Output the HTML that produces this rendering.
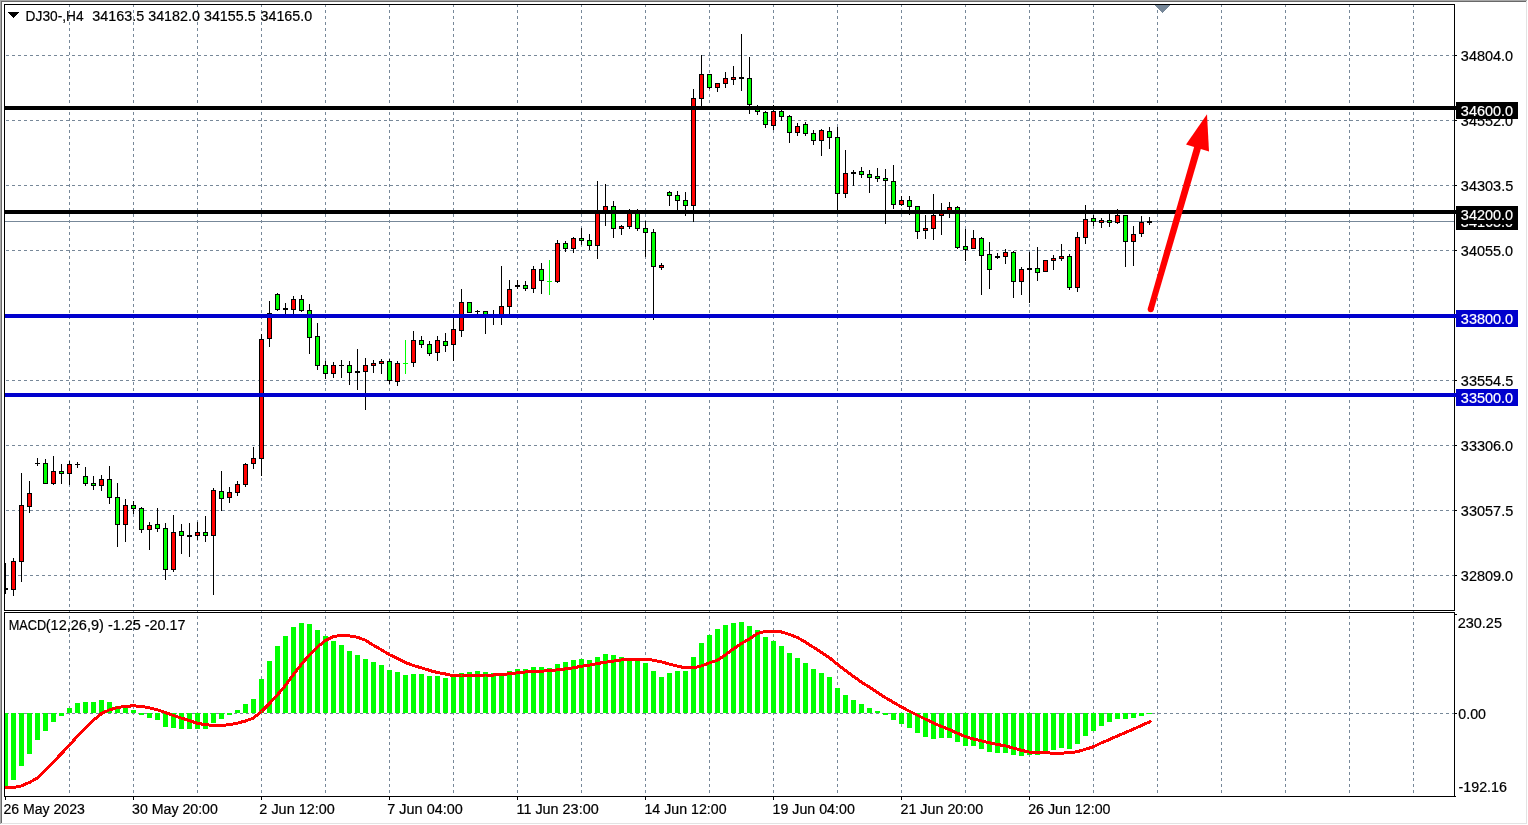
<!DOCTYPE html>
<html><head><meta charset="utf-8"><title>DJ30-,H4</title>
<style>html,body{margin:0;padding:0;background:#fff;overflow:hidden}svg{display:block}text{font-family:"Liberation Sans",sans-serif;font-size:14px;fill:#000;white-space:pre}text{stroke:#000;stroke-width:.2px}.w{fill:#fff;stroke:#fff}.c{shape-rendering:crispEdges}</style></head><body>
<svg width="1528" height="825" viewBox="0 0 1528 825">
<rect width="1528" height="825" fill="#fff"/>
<g class="c">
<rect x="0" y="0" width="1527" height="1" fill="#a8a8a8"/><rect x="0" y="0" width="1" height="824" fill="#a8a8a8"/>
<rect x="1" y="1" width="1525" height="1" fill="#696969"/><rect x="1" y="1" width="1" height="822" fill="#696969"/>
<rect x="1" y="823" width="1526" height="1" fill="#e3e3e3"/><rect x="1526" y="1" width="1" height="823" fill="#e3e3e3"/>
</g>
<g class="c" stroke="#778899" stroke-width="1" stroke-dasharray="3 3" fill="none">
<path d="M69.5 4V610"/>
<path d="M69.5 610V796"/>
<path d="M133.5 4V610"/>
<path d="M133.5 610V796"/>
<path d="M197.5 4V610"/>
<path d="M197.5 610V796"/>
<path d="M261.5 4V610"/>
<path d="M261.5 610V796"/>
<path d="M325.5 4V610"/>
<path d="M325.5 610V796"/>
<path d="M389.5 4V610"/>
<path d="M389.5 610V796"/>
<path d="M453.5 4V610"/>
<path d="M453.5 610V796"/>
<path d="M517.5 4V610"/>
<path d="M517.5 610V796"/>
<path d="M581.5 4V610"/>
<path d="M581.5 610V796"/>
<path d="M645.5 4V610"/>
<path d="M645.5 610V796"/>
<path d="M709.5 4V610"/>
<path d="M709.5 610V796"/>
<path d="M773.5 4V610"/>
<path d="M773.5 610V796"/>
<path d="M837.5 4V610"/>
<path d="M837.5 610V796"/>
<path d="M901.5 4V610"/>
<path d="M901.5 610V796"/>
<path d="M965.5 4V610"/>
<path d="M965.5 610V796"/>
<path d="M1029.5 4V610"/>
<path d="M1029.5 610V796"/>
<path d="M1093.5 4V610"/>
<path d="M1093.5 610V796"/>
<path d="M1157.5 4V610"/>
<path d="M1157.5 610V796"/>
<path d="M1221.5 4V610"/>
<path d="M1221.5 610V796"/>
<path d="M1285.5 4V610"/>
<path d="M1285.5 610V796"/>
<path d="M1349.5 4V610"/>
<path d="M1349.5 610V796"/>
<path d="M1413.5 4V610"/>
<path d="M1413.5 610V796"/>
<path d="M6 55.5H1454"/>
<path d="M6 120.5H1454"/>
<path d="M6 185.5H1454"/>
<path d="M6 250.5H1454"/>
<path d="M6 315.5H1454"/>
<path d="M6 380.5H1454"/>
<path d="M6 445.5H1454"/>
<path d="M6 510.5H1454"/>
<path d="M6 575.5H1454"/>
<path d="M6 713.5H1454"/>
</g>
<rect class="c" x="5" y="221" width="1449" height="1" fill="#778899"/>
<g class="c">
<rect x="5" y="713" width="3" height="74" fill="#00ff00"/>
<rect x="11" y="713" width="5" height="67" fill="#00ff00"/>
<rect x="19" y="713" width="5" height="53" fill="#00ff00"/>
<rect x="27" y="713" width="5" height="41" fill="#00ff00"/>
<rect x="35" y="713" width="5" height="27" fill="#00ff00"/>
<rect x="43" y="713" width="5" height="18" fill="#00ff00"/>
<rect x="51" y="713" width="5" height="9" fill="#00ff00"/>
<rect x="59" y="713" width="5" height="3" fill="#00ff00"/>
<rect x="67" y="708" width="5" height="5" fill="#00ff00"/>
<rect x="75" y="703" width="5" height="10" fill="#00ff00"/>
<rect x="83" y="702" width="5" height="11" fill="#00ff00"/>
<rect x="91" y="702" width="5" height="11" fill="#00ff00"/>
<rect x="99" y="700" width="5" height="13" fill="#00ff00"/>
<rect x="107" y="702" width="5" height="11" fill="#00ff00"/>
<rect x="115" y="706" width="5" height="7" fill="#00ff00"/>
<rect x="123" y="708" width="5" height="5" fill="#00ff00"/>
<rect x="131" y="710" width="5" height="3" fill="#00ff00"/>
<rect x="139" y="713" width="5" height="2" fill="#00ff00"/>
<rect x="147" y="713" width="5" height="5" fill="#00ff00"/>
<rect x="155" y="713" width="5" height="7" fill="#00ff00"/>
<rect x="163" y="713" width="5" height="14" fill="#00ff00"/>
<rect x="171" y="713" width="5" height="15" fill="#00ff00"/>
<rect x="179" y="713" width="5" height="16" fill="#00ff00"/>
<rect x="187" y="713" width="5" height="16" fill="#00ff00"/>
<rect x="195" y="713" width="5" height="16" fill="#00ff00"/>
<rect x="203" y="713" width="5" height="16" fill="#00ff00"/>
<rect x="211" y="713" width="5" height="10" fill="#00ff00"/>
<rect x="219" y="713" width="5" height="6" fill="#00ff00"/>
<rect x="227" y="713" width="5" height="2" fill="#00ff00"/>
<rect x="235" y="710" width="5" height="3" fill="#00ff00"/>
<rect x="243" y="704" width="5" height="9" fill="#00ff00"/>
<rect x="251" y="699" width="5" height="14" fill="#00ff00"/>
<rect x="259" y="679" width="5" height="34" fill="#00ff00"/>
<rect x="267" y="661" width="5" height="52" fill="#00ff00"/>
<rect x="275" y="646" width="5" height="67" fill="#00ff00"/>
<rect x="283" y="636" width="5" height="77" fill="#00ff00"/>
<rect x="291" y="627" width="5" height="86" fill="#00ff00"/>
<rect x="299" y="623" width="5" height="90" fill="#00ff00"/>
<rect x="307" y="624" width="5" height="89" fill="#00ff00"/>
<rect x="315" y="630" width="5" height="83" fill="#00ff00"/>
<rect x="323" y="636" width="5" height="77" fill="#00ff00"/>
<rect x="331" y="641" width="5" height="72" fill="#00ff00"/>
<rect x="339" y="645" width="5" height="68" fill="#00ff00"/>
<rect x="347" y="651" width="5" height="62" fill="#00ff00"/>
<rect x="355" y="655" width="5" height="58" fill="#00ff00"/>
<rect x="363" y="659" width="5" height="54" fill="#00ff00"/>
<rect x="371" y="662" width="5" height="51" fill="#00ff00"/>
<rect x="379" y="665" width="5" height="48" fill="#00ff00"/>
<rect x="387" y="670" width="5" height="43" fill="#00ff00"/>
<rect x="395" y="672" width="5" height="41" fill="#00ff00"/>
<rect x="403" y="675" width="5" height="38" fill="#00ff00"/>
<rect x="411" y="674" width="5" height="39" fill="#00ff00"/>
<rect x="419" y="674" width="5" height="39" fill="#00ff00"/>
<rect x="427" y="676" width="5" height="37" fill="#00ff00"/>
<rect x="435" y="676" width="5" height="37" fill="#00ff00"/>
<rect x="443" y="678" width="5" height="35" fill="#00ff00"/>
<rect x="451" y="675" width="5" height="38" fill="#00ff00"/>
<rect x="459" y="673" width="5" height="40" fill="#00ff00"/>
<rect x="467" y="672" width="5" height="41" fill="#00ff00"/>
<rect x="475" y="671" width="5" height="42" fill="#00ff00"/>
<rect x="483" y="672" width="5" height="41" fill="#00ff00"/>
<rect x="491" y="673" width="5" height="40" fill="#00ff00"/>
<rect x="499" y="673" width="5" height="40" fill="#00ff00"/>
<rect x="507" y="671" width="5" height="42" fill="#00ff00"/>
<rect x="515" y="669" width="5" height="44" fill="#00ff00"/>
<rect x="523" y="669" width="5" height="44" fill="#00ff00"/>
<rect x="531" y="667" width="5" height="46" fill="#00ff00"/>
<rect x="539" y="667" width="5" height="46" fill="#00ff00"/>
<rect x="547" y="668" width="5" height="45" fill="#00ff00"/>
<rect x="555" y="664" width="5" height="49" fill="#00ff00"/>
<rect x="563" y="662" width="5" height="51" fill="#00ff00"/>
<rect x="571" y="660" width="5" height="53" fill="#00ff00"/>
<rect x="579" y="659" width="5" height="54" fill="#00ff00"/>
<rect x="587" y="660" width="5" height="53" fill="#00ff00"/>
<rect x="595" y="657" width="5" height="56" fill="#00ff00"/>
<rect x="603" y="654" width="5" height="59" fill="#00ff00"/>
<rect x="611" y="655" width="5" height="58" fill="#00ff00"/>
<rect x="619" y="657" width="5" height="56" fill="#00ff00"/>
<rect x="627" y="658" width="5" height="55" fill="#00ff00"/>
<rect x="635" y="659" width="5" height="54" fill="#00ff00"/>
<rect x="643" y="663" width="5" height="50" fill="#00ff00"/>
<rect x="651" y="671" width="5" height="42" fill="#00ff00"/>
<rect x="659" y="677" width="5" height="36" fill="#00ff00"/>
<rect x="667" y="673" width="5" height="40" fill="#00ff00"/>
<rect x="675" y="671" width="5" height="42" fill="#00ff00"/>
<rect x="683" y="671" width="5" height="42" fill="#00ff00"/>
<rect x="691" y="657" width="5" height="56" fill="#00ff00"/>
<rect x="699" y="643" width="5" height="70" fill="#00ff00"/>
<rect x="707" y="635" width="5" height="78" fill="#00ff00"/>
<rect x="715" y="629" width="5" height="84" fill="#00ff00"/>
<rect x="723" y="625" width="5" height="88" fill="#00ff00"/>
<rect x="731" y="623" width="5" height="90" fill="#00ff00"/>
<rect x="739" y="622" width="5" height="91" fill="#00ff00"/>
<rect x="747" y="626" width="5" height="87" fill="#00ff00"/>
<rect x="755" y="630" width="5" height="83" fill="#00ff00"/>
<rect x="763" y="637" width="5" height="76" fill="#00ff00"/>
<rect x="771" y="641" width="5" height="72" fill="#00ff00"/>
<rect x="779" y="646" width="5" height="67" fill="#00ff00"/>
<rect x="787" y="653" width="5" height="60" fill="#00ff00"/>
<rect x="795" y="658" width="5" height="55" fill="#00ff00"/>
<rect x="803" y="663" width="5" height="50" fill="#00ff00"/>
<rect x="811" y="669" width="5" height="44" fill="#00ff00"/>
<rect x="819" y="673" width="5" height="40" fill="#00ff00"/>
<rect x="827" y="677" width="5" height="36" fill="#00ff00"/>
<rect x="835" y="688" width="5" height="25" fill="#00ff00"/>
<rect x="843" y="695" width="5" height="18" fill="#00ff00"/>
<rect x="851" y="700" width="5" height="13" fill="#00ff00"/>
<rect x="859" y="704" width="5" height="9" fill="#00ff00"/>
<rect x="867" y="708" width="5" height="5" fill="#00ff00"/>
<rect x="875" y="711" width="5" height="2" fill="#00ff00"/>
<rect x="883" y="713" width="5" height="2" fill="#00ff00"/>
<rect x="891" y="713" width="5" height="7" fill="#00ff00"/>
<rect x="899" y="713" width="5" height="11" fill="#00ff00"/>
<rect x="907" y="713" width="5" height="15" fill="#00ff00"/>
<rect x="915" y="713" width="5" height="20" fill="#00ff00"/>
<rect x="923" y="713" width="5" height="24" fill="#00ff00"/>
<rect x="931" y="713" width="5" height="26" fill="#00ff00"/>
<rect x="939" y="713" width="5" height="25" fill="#00ff00"/>
<rect x="947" y="713" width="5" height="25" fill="#00ff00"/>
<rect x="955" y="713" width="5" height="29" fill="#00ff00"/>
<rect x="963" y="713" width="5" height="33" fill="#00ff00"/>
<rect x="971" y="713" width="5" height="33" fill="#00ff00"/>
<rect x="979" y="713" width="5" height="36" fill="#00ff00"/>
<rect x="987" y="713" width="5" height="39" fill="#00ff00"/>
<rect x="995" y="713" width="5" height="40" fill="#00ff00"/>
<rect x="1003" y="713" width="5" height="40" fill="#00ff00"/>
<rect x="1011" y="713" width="5" height="42" fill="#00ff00"/>
<rect x="1019" y="713" width="5" height="43" fill="#00ff00"/>
<rect x="1027" y="713" width="5" height="42" fill="#00ff00"/>
<rect x="1035" y="713" width="5" height="42" fill="#00ff00"/>
<rect x="1043" y="713" width="5" height="39" fill="#00ff00"/>
<rect x="1051" y="713" width="5" height="37" fill="#00ff00"/>
<rect x="1059" y="713" width="5" height="35" fill="#00ff00"/>
<rect x="1067" y="713" width="5" height="36" fill="#00ff00"/>
<rect x="1075" y="713" width="5" height="31" fill="#00ff00"/>
<rect x="1083" y="713" width="5" height="23" fill="#00ff00"/>
<rect x="1091" y="713" width="5" height="18" fill="#00ff00"/>
<rect x="1099" y="713" width="5" height="13" fill="#00ff00"/>
<rect x="1107" y="713" width="5" height="9" fill="#00ff00"/>
<rect x="1115" y="713" width="5" height="6" fill="#00ff00"/>
<rect x="1123" y="713" width="5" height="6" fill="#00ff00"/>
<rect x="1131" y="713" width="5" height="5" fill="#00ff00"/>
<rect x="1139" y="713" width="5" height="3" fill="#00ff00"/>
<rect x="1147" y="713" width="5" height="1" fill="#00ff00"/>
</g>
<polyline points="5,787.8 5.5,787.8 13.5,787.5 21.5,785.9 29.5,782.4 37.5,777.9 45.5,770.2 53.5,761.8 61.5,753.5 69.5,745.1 77.5,736.1 85.5,727.8 93.5,720.1 101.5,713.6 109.5,709.8 117.5,707.6 125.5,706.2 133.5,705.9 141.5,706.2 149.5,707.9 157.5,709.8 165.5,712.6 173.5,715.6 181.5,718.1 189.5,720.7 197.5,723.4 205.5,724.6 213.5,725.6 221.5,725.6 229.5,724.6 237.5,723.1 245.5,721 253.5,718 261.5,711.5 269.5,703.5 277.5,694.8 285.5,685.3 293.5,674.4 301.5,664.2 309.5,654.8 317.5,646.8 325.5,640.5 333.5,636.6 341.5,635.1 349.5,635.9 357.5,637.3 365.5,640.2 373.5,645.3 381.5,649.9 389.5,654.7 397.5,658.6 405.5,662.6 413.5,665.6 421.5,667.8 429.5,670.4 437.5,672.6 445.5,674 453.5,675.7 461.5,675.9 469.5,675.9 477.5,675.7 485.5,675 493.5,675 501.5,674.7 509.5,673.7 517.5,672.8 525.5,672 533.5,671.7 541.5,671.1 549.5,670.8 557.5,669.8 565.5,668.9 573.5,667.8 581.5,666.2 589.5,665.1 597.5,663.5 605.5,662.2 613.5,661.1 621.5,659.9 629.5,659.1 637.5,659.1 645.5,659.1 653.5,660.2 661.5,661.9 669.5,664.2 677.5,666.2 685.5,667.8 693.5,667.8 701.5,665.9 709.5,662.8 717.5,660.2 725.5,654.8 733.5,648.8 741.5,643.5 749.5,638.8 757.5,633.5 765.5,631.3 773.5,631.2 781.5,632 789.5,634.4 797.5,637.5 805.5,642.2 813.5,647.3 821.5,652.4 829.5,657.8 837.5,664.3 845.5,670.5 853.5,676.5 861.5,682.1 869.5,687.2 877.5,692.6 885.5,697.7 893.5,702.4 901.5,707 909.5,711.3 917.5,715.2 925.5,719.2 933.5,723.1 941.5,726.5 949.5,729.6 957.5,733.3 965.5,736.6 973.5,739 981.5,740.9 989.5,742.8 997.5,744.5 1005.5,745.9 1013.5,748.1 1021.5,750.3 1029.5,752.1 1037.5,752.8 1045.5,752.8 1053.5,753.2 1061.5,753.1 1069.5,752.8 1077.5,751.7 1085.5,749.2 1093.5,746.7 1101.5,742.8 1109.5,739.5 1117.5,735.9 1125.5,732.5 1133.5,729.1 1141.5,725.5 1149.5,721.9 1151,720.8" fill="none" stroke="#ff0000" stroke-width="3" stroke-linejoin="round" stroke-linecap="butt" shape-rendering="crispEdges"/>
<g class="c">
<rect x="5" y="563" width="1" height="31" fill="#000"/>
<rect x="5" y="588" width="3" height="2" fill="#000"/>
<rect x="13" y="558" width="1" height="38" fill="#000"/>
<rect x="11" y="561" width="5" height="29" fill="#000"/>
<rect x="12" y="562" width="3" height="27" fill="#ff0000"/>
<rect x="21" y="473" width="1" height="109" fill="#000"/>
<rect x="19" y="505" width="5" height="57" fill="#000"/>
<rect x="20" y="506" width="3" height="55" fill="#ff0000"/>
<rect x="29" y="481" width="1" height="32" fill="#000"/>
<rect x="27" y="493" width="5" height="14" fill="#000"/>
<rect x="28" y="494" width="3" height="12" fill="#ff0000"/>
<rect x="37" y="458" width="1" height="8" fill="#000"/>
<rect x="35" y="463" width="5" height="1" fill="#000"/>
<rect x="45" y="459" width="1" height="25" fill="#000"/>
<rect x="43" y="463" width="5" height="21" fill="#000"/>
<rect x="44" y="464" width="3" height="19" fill="#00ff00"/>
<rect x="53" y="456" width="1" height="29" fill="#000"/>
<rect x="51" y="471" width="5" height="13" fill="#000"/>
<rect x="52" y="472" width="3" height="11" fill="#ff0000"/>
<rect x="61" y="464" width="1" height="20" fill="#000"/>
<rect x="59" y="471" width="5" height="3" fill="#000"/>
<rect x="60" y="472" width="3" height="1" fill="#00ff00"/>
<rect x="69" y="461" width="1" height="24" fill="#000"/>
<rect x="67" y="464" width="5" height="10" fill="#000"/>
<rect x="68" y="465" width="3" height="8" fill="#ff0000"/>
<rect x="77" y="462" width="1" height="6" fill="#000"/>
<rect x="75" y="464" width="5" height="1" fill="#000"/>
<rect x="85" y="467" width="1" height="19" fill="#000"/>
<rect x="83" y="476" width="5" height="8" fill="#000"/>
<rect x="84" y="477" width="3" height="6" fill="#00ff00"/>
<rect x="93" y="476" width="1" height="14" fill="#000"/>
<rect x="91" y="483" width="5" height="3" fill="#000"/>
<rect x="92" y="484" width="3" height="1" fill="#00ff00"/>
<rect x="101" y="475" width="1" height="16" fill="#000"/>
<rect x="99" y="479" width="5" height="7" fill="#000"/>
<rect x="100" y="480" width="3" height="5" fill="#ff0000"/>
<rect x="109" y="466" width="1" height="38" fill="#000"/>
<rect x="107" y="479" width="5" height="19" fill="#000"/>
<rect x="108" y="480" width="3" height="17" fill="#00ff00"/>
<rect x="117" y="483" width="1" height="64" fill="#000"/>
<rect x="115" y="497" width="5" height="28" fill="#000"/>
<rect x="116" y="498" width="3" height="26" fill="#00ff00"/>
<rect x="125" y="499" width="1" height="43" fill="#000"/>
<rect x="123" y="505" width="5" height="20" fill="#000"/>
<rect x="124" y="506" width="3" height="18" fill="#ff0000"/>
<rect x="133" y="501" width="1" height="13" fill="#000"/>
<rect x="131" y="505" width="5" height="4" fill="#000"/>
<rect x="132" y="506" width="3" height="2" fill="#00ff00"/>
<rect x="141" y="507" width="1" height="26" fill="#000"/>
<rect x="139" y="508" width="5" height="22" fill="#000"/>
<rect x="140" y="509" width="3" height="20" fill="#00ff00"/>
<rect x="149" y="522" width="1" height="28" fill="#000"/>
<rect x="147" y="525" width="5" height="5" fill="#000"/>
<rect x="148" y="526" width="3" height="3" fill="#ff0000"/>
<rect x="157" y="508" width="1" height="24" fill="#000"/>
<rect x="155" y="524" width="5" height="5" fill="#000"/>
<rect x="156" y="525" width="3" height="3" fill="#00ff00"/>
<rect x="165" y="523" width="1" height="57" fill="#000"/>
<rect x="163" y="528" width="5" height="42" fill="#000"/>
<rect x="164" y="529" width="3" height="40" fill="#00ff00"/>
<rect x="173" y="515" width="1" height="57" fill="#000"/>
<rect x="171" y="532" width="5" height="38" fill="#000"/>
<rect x="172" y="533" width="3" height="36" fill="#ff0000"/>
<rect x="181" y="524" width="1" height="30" fill="#000"/>
<rect x="179" y="531" width="5" height="5" fill="#000"/>
<rect x="180" y="532" width="3" height="3" fill="#00ff00"/>
<rect x="189" y="523" width="1" height="34" fill="#000"/>
<rect x="187" y="535" width="5" height="2" fill="#000"/>
<rect x="197" y="522" width="1" height="18" fill="#000"/>
<rect x="195" y="532" width="5" height="4" fill="#000"/>
<rect x="196" y="533" width="3" height="2" fill="#ff0000"/>
<rect x="205" y="516" width="1" height="26" fill="#000"/>
<rect x="203" y="532" width="5" height="4" fill="#000"/>
<rect x="204" y="533" width="3" height="2" fill="#00ff00"/>
<rect x="213" y="488" width="1" height="107" fill="#000"/>
<rect x="211" y="490" width="5" height="46" fill="#000"/>
<rect x="212" y="491" width="3" height="44" fill="#ff0000"/>
<rect x="221" y="471" width="1" height="40" fill="#000"/>
<rect x="219" y="491" width="5" height="8" fill="#000"/>
<rect x="220" y="492" width="3" height="6" fill="#00ff00"/>
<rect x="229" y="487" width="1" height="16" fill="#000"/>
<rect x="227" y="492" width="5" height="6" fill="#000"/>
<rect x="228" y="493" width="3" height="4" fill="#ff0000"/>
<rect x="237" y="481" width="1" height="15" fill="#000"/>
<rect x="235" y="484" width="5" height="9" fill="#000"/>
<rect x="236" y="485" width="3" height="7" fill="#ff0000"/>
<rect x="245" y="463" width="1" height="24" fill="#000"/>
<rect x="243" y="464" width="5" height="21" fill="#000"/>
<rect x="244" y="465" width="3" height="19" fill="#ff0000"/>
<rect x="253" y="447" width="1" height="22" fill="#000"/>
<rect x="251" y="458" width="5" height="6" fill="#000"/>
<rect x="252" y="459" width="3" height="4" fill="#ff0000"/>
<rect x="261" y="334" width="1" height="142" fill="#000"/>
<rect x="259" y="339" width="5" height="120" fill="#000"/>
<rect x="260" y="340" width="3" height="118" fill="#ff0000"/>
<rect x="269" y="301" width="1" height="46" fill="#000"/>
<rect x="267" y="313" width="5" height="26" fill="#000"/>
<rect x="268" y="314" width="3" height="24" fill="#ff0000"/>
<rect x="277" y="293" width="1" height="18" fill="#000"/>
<rect x="275" y="294" width="5" height="16" fill="#000"/>
<rect x="276" y="295" width="3" height="14" fill="#00ff00"/>
<rect x="285" y="303" width="1" height="13" fill="#000"/>
<rect x="283" y="308" width="5" height="2" fill="#000"/>
<rect x="293" y="296" width="1" height="20" fill="#000"/>
<rect x="291" y="299" width="5" height="11" fill="#000"/>
<rect x="292" y="300" width="3" height="9" fill="#ff0000"/>
<rect x="301" y="295" width="1" height="17" fill="#000"/>
<rect x="299" y="299" width="5" height="12" fill="#000"/>
<rect x="300" y="300" width="3" height="10" fill="#00ff00"/>
<rect x="309" y="304" width="1" height="50" fill="#000"/>
<rect x="307" y="310" width="5" height="28" fill="#000"/>
<rect x="308" y="311" width="3" height="26" fill="#00ff00"/>
<rect x="317" y="323" width="1" height="47" fill="#000"/>
<rect x="315" y="336" width="5" height="30" fill="#000"/>
<rect x="316" y="337" width="3" height="28" fill="#00ff00"/>
<rect x="325" y="361" width="1" height="18" fill="#000"/>
<rect x="323" y="365" width="5" height="9" fill="#000"/>
<rect x="324" y="366" width="3" height="7" fill="#00ff00"/>
<rect x="333" y="362" width="1" height="16" fill="#000"/>
<rect x="331" y="365" width="5" height="9" fill="#000"/>
<rect x="332" y="366" width="3" height="7" fill="#ff0000"/>
<rect x="341" y="360" width="1" height="18" fill="#000"/>
<rect x="339" y="365" width="5" height="1" fill="#000"/>
<rect x="349" y="361" width="1" height="24" fill="#000"/>
<rect x="347" y="365" width="5" height="8" fill="#000"/>
<rect x="348" y="366" width="3" height="6" fill="#00ff00"/>
<rect x="357" y="349" width="1" height="41" fill="#000"/>
<rect x="355" y="371" width="5" height="2" fill="#000"/>
<rect x="365" y="358" width="1" height="52" fill="#000"/>
<rect x="363" y="365" width="5" height="7" fill="#000"/>
<rect x="364" y="366" width="3" height="5" fill="#ff0000"/>
<rect x="373" y="360" width="1" height="13" fill="#000"/>
<rect x="371" y="363" width="5" height="3" fill="#000"/>
<rect x="372" y="364" width="3" height="1" fill="#ff0000"/>
<rect x="381" y="359" width="1" height="15" fill="#000"/>
<rect x="379" y="361" width="5" height="3" fill="#000"/>
<rect x="380" y="362" width="3" height="1" fill="#ff0000"/>
<rect x="389" y="359" width="1" height="25" fill="#000"/>
<rect x="387" y="361" width="5" height="20" fill="#000"/>
<rect x="388" y="362" width="3" height="18" fill="#00ff00"/>
<rect x="397" y="361" width="1" height="25" fill="#000"/>
<rect x="395" y="363" width="5" height="19" fill="#000"/>
<rect x="396" y="364" width="3" height="17" fill="#ff0000"/>
<rect x="405" y="340" width="1" height="34" fill="#00ff00"/>
<rect x="403" y="363" width="5" height="1" fill="#00ff00"/>
<rect x="413" y="331" width="1" height="36" fill="#000"/>
<rect x="411" y="340" width="5" height="23" fill="#000"/>
<rect x="412" y="341" width="3" height="21" fill="#ff0000"/>
<rect x="421" y="336" width="1" height="12" fill="#000"/>
<rect x="419" y="340" width="5" height="5" fill="#000"/>
<rect x="420" y="341" width="3" height="3" fill="#00ff00"/>
<rect x="429" y="341" width="1" height="15" fill="#000"/>
<rect x="427" y="344" width="5" height="10" fill="#000"/>
<rect x="428" y="345" width="3" height="8" fill="#00ff00"/>
<rect x="437" y="336" width="1" height="25" fill="#000"/>
<rect x="435" y="340" width="5" height="13" fill="#000"/>
<rect x="436" y="341" width="3" height="11" fill="#ff0000"/>
<rect x="445" y="333" width="1" height="19" fill="#000"/>
<rect x="443" y="341" width="5" height="5" fill="#000"/>
<rect x="444" y="342" width="3" height="3" fill="#00ff00"/>
<rect x="453" y="316" width="1" height="45" fill="#000"/>
<rect x="451" y="329" width="5" height="16" fill="#000"/>
<rect x="452" y="330" width="3" height="14" fill="#ff0000"/>
<rect x="461" y="289" width="1" height="48" fill="#000"/>
<rect x="459" y="302" width="5" height="29" fill="#000"/>
<rect x="460" y="303" width="3" height="27" fill="#ff0000"/>
<rect x="469" y="302" width="1" height="11" fill="#000"/>
<rect x="467" y="302" width="5" height="11" fill="#000"/>
<rect x="468" y="303" width="3" height="9" fill="#00ff00"/>
<rect x="477" y="310" width="1" height="5" fill="#000"/>
<rect x="475" y="311" width="5" height="1" fill="#000"/>
<rect x="485" y="311" width="1" height="23" fill="#000"/>
<rect x="483" y="311" width="5" height="5" fill="#000"/>
<rect x="484" y="312" width="3" height="3" fill="#00ff00"/>
<rect x="493" y="310" width="1" height="15" fill="#000"/>
<rect x="491" y="315" width="5" height="1" fill="#000"/>
<rect x="501" y="266" width="1" height="59" fill="#000"/>
<rect x="499" y="306" width="5" height="10" fill="#000"/>
<rect x="500" y="307" width="3" height="8" fill="#ff0000"/>
<rect x="509" y="280" width="1" height="36" fill="#000"/>
<rect x="507" y="289" width="5" height="18" fill="#000"/>
<rect x="508" y="290" width="3" height="16" fill="#ff0000"/>
<rect x="517" y="280" width="1" height="9" fill="#000"/>
<rect x="515" y="285" width="5" height="2" fill="#000"/>
<rect x="525" y="281" width="1" height="10" fill="#000"/>
<rect x="523" y="285" width="5" height="4" fill="#000"/>
<rect x="524" y="286" width="3" height="2" fill="#00ff00"/>
<rect x="533" y="266" width="1" height="27" fill="#000"/>
<rect x="531" y="269" width="5" height="20" fill="#000"/>
<rect x="532" y="270" width="3" height="18" fill="#ff0000"/>
<rect x="541" y="263" width="1" height="31" fill="#000"/>
<rect x="539" y="269" width="5" height="12" fill="#000"/>
<rect x="540" y="270" width="3" height="10" fill="#00ff00"/>
<rect x="549" y="260" width="1" height="35" fill="#00ff00"/>
<rect x="547" y="281" width="5" height="1" fill="#00ff00"/>
<rect x="557" y="240" width="1" height="43" fill="#000"/>
<rect x="555" y="243" width="5" height="39" fill="#000"/>
<rect x="556" y="244" width="3" height="37" fill="#ff0000"/>
<rect x="565" y="241" width="1" height="11" fill="#000"/>
<rect x="563" y="243" width="5" height="6" fill="#000"/>
<rect x="564" y="244" width="3" height="4" fill="#00ff00"/>
<rect x="573" y="237" width="1" height="16" fill="#000"/>
<rect x="571" y="238" width="5" height="11" fill="#000"/>
<rect x="572" y="239" width="3" height="9" fill="#ff0000"/>
<rect x="581" y="228" width="1" height="17" fill="#000"/>
<rect x="579" y="238" width="5" height="3" fill="#000"/>
<rect x="580" y="239" width="3" height="1" fill="#00ff00"/>
<rect x="589" y="234" width="1" height="16" fill="#000"/>
<rect x="587" y="240" width="5" height="6" fill="#000"/>
<rect x="588" y="241" width="3" height="4" fill="#00ff00"/>
<rect x="597" y="181" width="1" height="78" fill="#000"/>
<rect x="595" y="212" width="5" height="34" fill="#000"/>
<rect x="596" y="213" width="3" height="32" fill="#ff0000"/>
<rect x="605" y="184" width="1" height="42" fill="#000"/>
<rect x="603" y="206" width="5" height="6" fill="#000"/>
<rect x="604" y="207" width="3" height="4" fill="#ff0000"/>
<rect x="613" y="201" width="1" height="37" fill="#000"/>
<rect x="611" y="206" width="5" height="23" fill="#000"/>
<rect x="612" y="207" width="3" height="21" fill="#00ff00"/>
<rect x="621" y="225" width="1" height="10" fill="#000"/>
<rect x="619" y="226" width="5" height="3" fill="#000"/>
<rect x="620" y="227" width="3" height="1" fill="#ff0000"/>
<rect x="629" y="209" width="1" height="20" fill="#000"/>
<rect x="627" y="212" width="5" height="15" fill="#000"/>
<rect x="628" y="213" width="3" height="13" fill="#ff0000"/>
<rect x="637" y="209" width="1" height="22" fill="#000"/>
<rect x="635" y="212" width="5" height="17" fill="#000"/>
<rect x="636" y="213" width="3" height="15" fill="#00ff00"/>
<rect x="645" y="221" width="1" height="36" fill="#000"/>
<rect x="643" y="228" width="5" height="5" fill="#000"/>
<rect x="644" y="229" width="3" height="3" fill="#00ff00"/>
<rect x="653" y="229" width="1" height="91" fill="#000"/>
<rect x="651" y="232" width="5" height="35" fill="#000"/>
<rect x="652" y="233" width="3" height="33" fill="#00ff00"/>
<rect x="661" y="263" width="1" height="7" fill="#000"/>
<rect x="659" y="265" width="5" height="3" fill="#000"/>
<rect x="660" y="266" width="3" height="1" fill="#ff0000"/>
<rect x="669" y="191" width="1" height="15" fill="#000"/>
<rect x="667" y="192" width="5" height="4" fill="#000"/>
<rect x="668" y="193" width="3" height="2" fill="#00ff00"/>
<rect x="677" y="191" width="1" height="21" fill="#000"/>
<rect x="675" y="195" width="5" height="6" fill="#000"/>
<rect x="676" y="196" width="3" height="4" fill="#00ff00"/>
<rect x="685" y="192" width="1" height="24" fill="#000"/>
<rect x="683" y="200" width="5" height="6" fill="#000"/>
<rect x="684" y="201" width="3" height="4" fill="#00ff00"/>
<rect x="693" y="89" width="1" height="133" fill="#000"/>
<rect x="691" y="98" width="5" height="108" fill="#000"/>
<rect x="692" y="99" width="3" height="106" fill="#ff0000"/>
<rect x="701" y="55" width="1" height="53" fill="#000"/>
<rect x="699" y="74" width="5" height="25" fill="#000"/>
<rect x="700" y="75" width="3" height="23" fill="#ff0000"/>
<rect x="709" y="74" width="1" height="15" fill="#000"/>
<rect x="707" y="74" width="5" height="14" fill="#000"/>
<rect x="708" y="75" width="3" height="12" fill="#00ff00"/>
<rect x="717" y="83" width="1" height="9" fill="#000"/>
<rect x="715" y="83" width="5" height="5" fill="#000"/>
<rect x="716" y="84" width="3" height="3" fill="#ff0000"/>
<rect x="725" y="72" width="1" height="16" fill="#000"/>
<rect x="723" y="78" width="5" height="6" fill="#000"/>
<rect x="724" y="79" width="3" height="4" fill="#ff0000"/>
<rect x="733" y="66" width="1" height="19" fill="#000"/>
<rect x="731" y="77" width="5" height="3" fill="#000"/>
<rect x="732" y="78" width="3" height="1" fill="#ff0000"/>
<rect x="741" y="34" width="1" height="57" fill="#000"/>
<rect x="739" y="77" width="5" height="2" fill="#000"/>
<rect x="749" y="57" width="1" height="57" fill="#000"/>
<rect x="747" y="78" width="5" height="27" fill="#000"/>
<rect x="748" y="79" width="3" height="25" fill="#00ff00"/>
<rect x="757" y="105" width="1" height="10" fill="#000"/>
<rect x="755" y="108" width="5" height="4" fill="#000"/>
<rect x="756" y="109" width="3" height="2" fill="#00ff00"/>
<rect x="765" y="111" width="1" height="17" fill="#000"/>
<rect x="763" y="112" width="5" height="13" fill="#000"/>
<rect x="764" y="113" width="3" height="11" fill="#00ff00"/>
<rect x="773" y="105" width="1" height="25" fill="#000"/>
<rect x="771" y="111" width="5" height="15" fill="#000"/>
<rect x="772" y="112" width="3" height="13" fill="#ff0000"/>
<rect x="781" y="108" width="1" height="13" fill="#000"/>
<rect x="779" y="111" width="5" height="6" fill="#000"/>
<rect x="780" y="112" width="3" height="4" fill="#00ff00"/>
<rect x="789" y="115" width="1" height="28" fill="#000"/>
<rect x="787" y="116" width="5" height="17" fill="#000"/>
<rect x="788" y="117" width="3" height="15" fill="#00ff00"/>
<rect x="797" y="123" width="1" height="13" fill="#000"/>
<rect x="795" y="126" width="5" height="7" fill="#000"/>
<rect x="796" y="127" width="3" height="5" fill="#ff0000"/>
<rect x="805" y="122" width="1" height="14" fill="#000"/>
<rect x="803" y="124" width="5" height="10" fill="#000"/>
<rect x="804" y="125" width="3" height="8" fill="#00ff00"/>
<rect x="813" y="130" width="1" height="15" fill="#000"/>
<rect x="811" y="133" width="5" height="8" fill="#000"/>
<rect x="812" y="134" width="3" height="6" fill="#00ff00"/>
<rect x="821" y="129" width="1" height="27" fill="#000"/>
<rect x="819" y="130" width="5" height="11" fill="#000"/>
<rect x="820" y="131" width="3" height="9" fill="#ff0000"/>
<rect x="829" y="127" width="1" height="22" fill="#000"/>
<rect x="827" y="131" width="5" height="7" fill="#000"/>
<rect x="828" y="132" width="3" height="5" fill="#00ff00"/>
<rect x="837" y="127" width="1" height="85" fill="#000"/>
<rect x="835" y="137" width="5" height="57" fill="#000"/>
<rect x="836" y="138" width="3" height="55" fill="#00ff00"/>
<rect x="845" y="150" width="1" height="48" fill="#000"/>
<rect x="843" y="173" width="5" height="21" fill="#000"/>
<rect x="844" y="174" width="3" height="19" fill="#ff0000"/>
<rect x="853" y="170" width="1" height="16" fill="#000"/>
<rect x="851" y="172" width="5" height="2" fill="#000"/>
<rect x="861" y="167" width="1" height="11" fill="#000"/>
<rect x="859" y="171" width="5" height="4" fill="#000"/>
<rect x="860" y="172" width="3" height="2" fill="#00ff00"/>
<rect x="869" y="170" width="1" height="23" fill="#000"/>
<rect x="867" y="174" width="5" height="4" fill="#000"/>
<rect x="868" y="175" width="3" height="2" fill="#00ff00"/>
<rect x="877" y="168" width="1" height="14" fill="#000"/>
<rect x="875" y="176" width="5" height="3" fill="#000"/>
<rect x="876" y="177" width="3" height="1" fill="#00ff00"/>
<rect x="885" y="169" width="1" height="55" fill="#000"/>
<rect x="883" y="178" width="5" height="3" fill="#000"/>
<rect x="884" y="179" width="3" height="1" fill="#00ff00"/>
<rect x="893" y="165" width="1" height="44" fill="#000"/>
<rect x="891" y="181" width="5" height="24" fill="#000"/>
<rect x="892" y="182" width="3" height="22" fill="#00ff00"/>
<rect x="901" y="196" width="1" height="10" fill="#000"/>
<rect x="899" y="200" width="5" height="5" fill="#000"/>
<rect x="900" y="201" width="3" height="3" fill="#ff0000"/>
<rect x="909" y="196" width="1" height="19" fill="#000"/>
<rect x="907" y="200" width="5" height="7" fill="#000"/>
<rect x="908" y="201" width="3" height="5" fill="#00ff00"/>
<rect x="917" y="206" width="1" height="33" fill="#000"/>
<rect x="915" y="206" width="5" height="26" fill="#000"/>
<rect x="916" y="207" width="3" height="24" fill="#00ff00"/>
<rect x="925" y="215" width="1" height="24" fill="#000"/>
<rect x="923" y="228" width="5" height="3" fill="#000"/>
<rect x="924" y="229" width="3" height="1" fill="#ff0000"/>
<rect x="933" y="194" width="1" height="46" fill="#000"/>
<rect x="931" y="215" width="5" height="14" fill="#000"/>
<rect x="932" y="216" width="3" height="12" fill="#ff0000"/>
<rect x="941" y="203" width="1" height="32" fill="#000"/>
<rect x="939" y="213" width="5" height="3" fill="#000"/>
<rect x="940" y="214" width="3" height="1" fill="#ff0000"/>
<rect x="949" y="202" width="1" height="16" fill="#000"/>
<rect x="947" y="207" width="5" height="4" fill="#000"/>
<rect x="948" y="208" width="3" height="2" fill="#ff0000"/>
<rect x="957" y="206" width="1" height="43" fill="#000"/>
<rect x="955" y="207" width="5" height="41" fill="#000"/>
<rect x="956" y="208" width="3" height="39" fill="#00ff00"/>
<rect x="965" y="229" width="1" height="32" fill="#000"/>
<rect x="963" y="246" width="5" height="4" fill="#000"/>
<rect x="964" y="247" width="3" height="2" fill="#00ff00"/>
<rect x="973" y="230" width="1" height="19" fill="#000"/>
<rect x="971" y="238" width="5" height="11" fill="#000"/>
<rect x="972" y="239" width="3" height="9" fill="#ff0000"/>
<rect x="981" y="237" width="1" height="58" fill="#000"/>
<rect x="979" y="238" width="5" height="18" fill="#000"/>
<rect x="980" y="239" width="3" height="16" fill="#00ff00"/>
<rect x="989" y="242" width="1" height="47" fill="#000"/>
<rect x="987" y="254" width="5" height="16" fill="#000"/>
<rect x="988" y="255" width="3" height="14" fill="#00ff00"/>
<rect x="997" y="253" width="1" height="6" fill="#000"/>
<rect x="995" y="256" width="5" height="2" fill="#000"/>
<rect x="1005" y="249" width="1" height="15" fill="#000"/>
<rect x="1003" y="252" width="5" height="5" fill="#000"/>
<rect x="1004" y="253" width="3" height="3" fill="#ff0000"/>
<rect x="1013" y="251" width="1" height="47" fill="#000"/>
<rect x="1011" y="252" width="5" height="30" fill="#000"/>
<rect x="1012" y="253" width="3" height="28" fill="#00ff00"/>
<rect x="1021" y="267" width="1" height="28" fill="#000"/>
<rect x="1019" y="269" width="5" height="13" fill="#000"/>
<rect x="1020" y="270" width="3" height="11" fill="#ff0000"/>
<rect x="1029" y="252" width="1" height="51" fill="#000"/>
<rect x="1027" y="268" width="5" height="2" fill="#000"/>
<rect x="1037" y="247" width="1" height="34" fill="#000"/>
<rect x="1035" y="268" width="5" height="5" fill="#000"/>
<rect x="1036" y="269" width="3" height="3" fill="#00ff00"/>
<rect x="1045" y="260" width="1" height="12" fill="#000"/>
<rect x="1043" y="260" width="5" height="12" fill="#000"/>
<rect x="1044" y="261" width="3" height="10" fill="#ff0000"/>
<rect x="1053" y="255" width="1" height="15" fill="#000"/>
<rect x="1051" y="258" width="5" height="3" fill="#000"/>
<rect x="1052" y="259" width="3" height="1" fill="#ff0000"/>
<rect x="1061" y="244" width="1" height="17" fill="#000"/>
<rect x="1059" y="256" width="5" height="3" fill="#000"/>
<rect x="1060" y="257" width="3" height="1" fill="#ff0000"/>
<rect x="1069" y="254" width="1" height="36" fill="#000"/>
<rect x="1067" y="256" width="5" height="32" fill="#000"/>
<rect x="1068" y="257" width="3" height="30" fill="#00ff00"/>
<rect x="1077" y="232" width="1" height="60" fill="#000"/>
<rect x="1075" y="237" width="5" height="51" fill="#000"/>
<rect x="1076" y="238" width="3" height="49" fill="#ff0000"/>
<rect x="1085" y="205" width="1" height="39" fill="#000"/>
<rect x="1083" y="219" width="5" height="19" fill="#000"/>
<rect x="1084" y="220" width="3" height="17" fill="#ff0000"/>
<rect x="1093" y="215" width="1" height="11" fill="#000"/>
<rect x="1091" y="218" width="5" height="4" fill="#000"/>
<rect x="1092" y="219" width="3" height="2" fill="#00ff00"/>
<rect x="1101" y="218" width="1" height="10" fill="#000"/>
<rect x="1099" y="220" width="5" height="3" fill="#000"/>
<rect x="1100" y="221" width="3" height="1" fill="#ff0000"/>
<rect x="1109" y="212" width="1" height="15" fill="#000"/>
<rect x="1107" y="220" width="5" height="3" fill="#000"/>
<rect x="1108" y="221" width="3" height="1" fill="#00ff00"/>
<rect x="1117" y="209" width="1" height="15" fill="#000"/>
<rect x="1115" y="215" width="5" height="8" fill="#000"/>
<rect x="1116" y="216" width="3" height="6" fill="#ff0000"/>
<rect x="1125" y="215" width="1" height="52" fill="#000"/>
<rect x="1123" y="215" width="5" height="27" fill="#000"/>
<rect x="1124" y="216" width="3" height="25" fill="#00ff00"/>
<rect x="1133" y="226" width="1" height="40" fill="#000"/>
<rect x="1131" y="234" width="5" height="8" fill="#000"/>
<rect x="1132" y="235" width="3" height="6" fill="#ff0000"/>
<rect x="1141" y="216" width="1" height="21" fill="#000"/>
<rect x="1139" y="222" width="5" height="12" fill="#000"/>
<rect x="1140" y="223" width="3" height="10" fill="#ff0000"/>
<rect x="1149" y="217" width="1" height="8" fill="#000"/>
<rect x="1147" y="221" width="5" height="2" fill="#000"/>
</g>
<g class="c" fill="#000">
<rect x="4" y="4" width="1451" height="1"/>
<rect x="4" y="4" width="1" height="607"/>
<rect x="4" y="610" width="1451" height="1"/>
<rect x="1454" y="4" width="1" height="607"/>
<rect x="4" y="612" width="1451" height="1"/>
<rect x="4" y="612" width="1" height="185"/>
<rect x="1454" y="612" width="1" height="185"/>
<rect x="4" y="796" width="1452" height="1"/>
<rect x="1455" y="55" width="2" height="1"/>
<rect x="1455" y="120" width="2" height="1"/>
<rect x="1455" y="185" width="2" height="1"/>
<rect x="1455" y="250" width="2" height="1"/>
<rect x="1455" y="315" width="2" height="1"/>
<rect x="1455" y="380" width="2" height="1"/>
<rect x="1455" y="445" width="2" height="1"/>
<rect x="1455" y="510" width="2" height="1"/>
<rect x="1455" y="575" width="2" height="1"/>
<rect x="1455" y="614" width="2" height="1"/>
<rect x="1455" y="713" width="2" height="1"/>
<rect x="5" y="797" width="1" height="3"/>
<rect x="133" y="797" width="1" height="3"/>
<rect x="261" y="797" width="1" height="3"/>
<rect x="389" y="797" width="1" height="3"/>
<rect x="517" y="797" width="1" height="3"/>
<rect x="645" y="797" width="1" height="3"/>
<rect x="773" y="797" width="1" height="3"/>
<rect x="901" y="797" width="1" height="3"/>
<rect x="1029" y="797" width="1" height="3"/>
</g>
<g class="c">
<rect x="5" y="106" width="1451" height="4" fill="#000"/>
<rect x="5" y="210" width="1451" height="4" fill="#000"/>
<rect x="5" y="314" width="1451" height="4" fill="#0000cd"/>
<rect x="5" y="393" width="1451" height="4" fill="#0000cd"/>
</g>
<g class="c" fill="#778899"><rect x="1155" y="5" width="15" height="1"/><rect x="1156" y="6" width="13" height="1"/><rect x="1157" y="7" width="11" height="1"/><rect x="1158" y="8" width="9" height="1"/><rect x="1159" y="9" width="7" height="1"/><rect x="1160" y="10" width="5" height="1"/><rect x="1161" y="11" width="3" height="1"/><rect x="1162" y="12" width="1" height="1"/></g>
<g fill="#ff0000">
<path d="M1153.6 310.0 L1201.4 147.1 L1194.7 145.1 L1147.8 308.4Z"/>
<circle cx="1150.7" cy="309.2" r="3.0"/>
<path d="M1207.0 114.3L1186.0 144.5L1209.0 151.5Z"/>
</g>
<g class="c" fill="#000"><rect x="8" y="12" width="11" height="1"/><rect x="9" y="13" width="9" height="1"/><rect x="10" y="14" width="7" height="1"/><rect x="11" y="15" width="5" height="1"/><rect x="12" y="16" width="3" height="1"/><rect x="13" y="17" width="1" height="1"/></g>
<text x="25.62" y="21" textLength="58.0" lengthAdjust="spacingAndGlyphs">DJ30-,H4</text>
<text x="92.29" y="21" textLength="51.83" lengthAdjust="spacingAndGlyphs">34163.5</text>
<text x="148.19" y="21" textLength="51.73" lengthAdjust="spacingAndGlyphs">34182.0</text>
<text x="203.99" y="21" textLength="51.63" lengthAdjust="spacingAndGlyphs">34155.5</text>
<text x="260.59" y="21" textLength="51.53" lengthAdjust="spacingAndGlyphs">34165.0</text>
<text x="8.7" y="630" textLength="37.46" lengthAdjust="spacingAndGlyphs">MACD</text>
<text x="45.77" y="630" textLength="58.1" lengthAdjust="spacingAndGlyphs">(12,26,9)</text>
<text x="107.98" y="630" textLength="32.85" lengthAdjust="spacingAndGlyphs">-1.25</text>
<text x="144.68" y="630" textLength="40.83" lengthAdjust="spacingAndGlyphs">-20.17</text>
<text x="1460.88" y="61" textLength="52.24" lengthAdjust="spacingAndGlyphs">34804.0</text>
<text x="1460.88" y="126" textLength="52.24" lengthAdjust="spacingAndGlyphs">34552.0</text>
<text x="1460.88" y="191" textLength="52.35" lengthAdjust="spacingAndGlyphs">34303.5</text>
<text x="1460.88" y="256" textLength="52.24" lengthAdjust="spacingAndGlyphs">34055.0</text>
<text x="1460.88" y="321" textLength="52.35" lengthAdjust="spacingAndGlyphs">33803.5</text>
<text x="1460.88" y="386" textLength="52.35" lengthAdjust="spacingAndGlyphs">33554.5</text>
<text x="1460.88" y="451" textLength="52.24" lengthAdjust="spacingAndGlyphs">33306.0</text>
<text x="1460.88" y="516" textLength="52.35" lengthAdjust="spacingAndGlyphs">33057.5</text>
<text x="1460.88" y="581" textLength="52.24" lengthAdjust="spacingAndGlyphs">32809.0</text>
<text x="1457.68" y="628" textLength="44.26" lengthAdjust="spacingAndGlyphs">230.25</text>
<text x="1458.29" y="719" textLength="27.66" lengthAdjust="spacingAndGlyphs">0.00</text>
<text x="1458.59" y="792" textLength="48.3" lengthAdjust="spacingAndGlyphs">-192.16</text>
<text x="3.5" y="814" textLength="81.35" lengthAdjust="spacingAndGlyphs">26 May 2023</text>
<text x="132.09" y="814" textLength="85.75" lengthAdjust="spacingAndGlyphs">30 May 20:00</text>
<text x="259.38" y="814" textLength="75.41" lengthAdjust="spacingAndGlyphs">2 Jun 12:00</text>
<text x="387.28" y="814" textLength="75.61" lengthAdjust="spacingAndGlyphs">7 Jun 04:00</text>
<text x="516.47" y="814" textLength="82.17" lengthAdjust="spacingAndGlyphs">11 Jun 23:00</text>
<text x="644.48" y="814" textLength="82.08" lengthAdjust="spacingAndGlyphs">14 Jun 12:00</text>
<text x="772.48" y="814" textLength="82.39" lengthAdjust="spacingAndGlyphs">19 Jun 04:00</text>
<text x="900.49" y="814" textLength="82.69" lengthAdjust="spacingAndGlyphs">21 Jun 20:00</text>
<text x="1028.19" y="814" textLength="82.28" lengthAdjust="spacingAndGlyphs">26 Jun 12:00</text>
<clipPath id="bidclip"><rect x="1456" y="224" width="62" height="6"/></clipPath>
<rect class="c" x="1456" y="213" width="62" height="17" fill="#000"/>
<text x="1460.88" y="227" class="w" textLength="52.24" lengthAdjust="spacingAndGlyphs" clip-path="url(#bidclip)">34165.0</text>
<rect class="c" x="1456" y="102" width="62" height="17" fill="#000"/>
<text x="1460.88" y="116" class="w" textLength="52.24" lengthAdjust="spacingAndGlyphs">34600.0</text>
<rect class="c" x="1456" y="206" width="62" height="17" fill="#000"/>
<text x="1460.88" y="220" class="w" textLength="52.24" lengthAdjust="spacingAndGlyphs">34200.0</text>
<rect class="c" x="1456" y="310" width="62" height="17" fill="#0000cd"/>
<text x="1460.88" y="324" class="w" textLength="52.24" lengthAdjust="spacingAndGlyphs">33800.0</text>
<rect class="c" x="1456" y="389" width="62" height="17" fill="#0000cd"/>
<text x="1460.88" y="403" class="w" textLength="52.24" lengthAdjust="spacingAndGlyphs">33500.0</text>
</svg></body></html>
